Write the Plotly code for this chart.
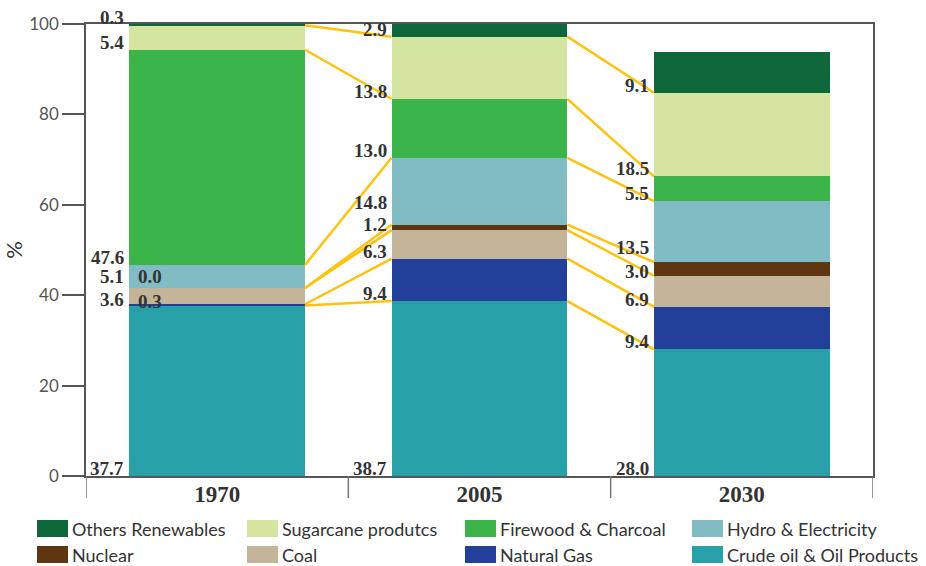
import plotly.graph_objects as go

# Energy mix shares (%) by year, stacked bottom to top
years = ["1970", "2005", "2030"]

crude_oil = [37.7, 38.7, 28.0]
natural_gas = [0.3, 9.4, 9.4]
coal = [3.6, 6.3, 6.9]
nuclear = [0.0, 1.2, 3.0]
hydro = [5.1, 14.8, 13.5]
firewood = [47.6, 13.0, 5.5]
sugarcane = [5.4, 13.8, 18.5]
others_renew = [0.3, 2.9, 9.1]

series_names = [
    "Crude oil & Oil Products", "Natural Gas", "Coal", "Nuclear",
    "Hydro & Electricity", "Firewood & Charcoal", "Sugarcane produtcs",
    "Others Renewables",
]
series_values = [crude_oil, natural_gas, coal, nuclear, hydro,
                 firewood, sugarcane, others_renew]
series_colors = ["#28A0A8", "#22409A", "#C4B49A", "#5E3612",
                 "#81BBC3", "#3BB44A", "#D4E5A0", "#0E673A"]

# geometry of the plot area (pixels)
W, H = 926, 566
L, R, T, B = 86, 53, 24, 90
PW, PH = W - L - R, H - T - B
BAR_W = 0.67
half_bar_px = BAR_W / 2 * PW / len(years)


def px_x(p):
    return (p - L) / PW


def px_y(p):
    return (H - B - p) / PH


fig = go.Figure()
for name, vals, col in zip(series_names, series_values, series_colors):
    fig.add_trace(go.Bar(
        x=years, y=vals, name=name, width=BAR_W,
        marker=dict(color=col, line=dict(width=0)),
        showlegend=False, hoverinfo="x+y+name",
    ))

# cumulative bases of each segment
bases = []
run = [0.0] * len(years)
for vals in series_values:
    bases.append(list(run))
    run = [r + v for r, v in zip(run, vals)]

label_font = dict(family="Liberation Serif", size=19, color="#333333",
                  weight="bold")
annotations = []
# label nudges: (series, year) -> inside the bar / extra vertical shift (px)
inside = {(1, 0), (3, 0)}
lift = {
    (4, 0): 4, (2, 0): -3, (3, 0): 4, (1, 0): -3,
    (4, 1): 15, (3, 1): -2,
    (4, 2): 7, (3, 2): -3,
}
for k, vals in enumerate(series_values):
    for j, v in enumerate(vals):
        is_inside = (k, j) in inside
        annotations.append(dict(
            x=j, y=bases[k][j], xref="x", yref="y",
            text=f"{v:.1f}", showarrow=False, font=label_font,
            borderpad=0,
            xanchor="left" if is_inside else "right", yanchor="bottom",
            xshift=(-half_bar_px + 8) if is_inside else (-half_bar_px - 4),
            yshift=-4 + lift.get((k, j), 0),
        ))

shapes = []
# connectors between segment bases of neighbouring bars
for j in range(len(years) - 1):
    for k in range(1, len(series_values)):
        shapes.append(dict(
            type="line", xref="x", yref="y",
            x0=j + BAR_W / 2, x1=j + 1 - BAR_W / 2,
            y0=bases[k][j], y1=bases[k][j + 1],
            line=dict(color="#FFC20E", width=2.5),
        ))

# category separators below the axis
for b in range(len(years) + 1):
    shapes.append(dict(
        type="line", xref="x", yref="paper",
        x0=b - 0.5, x1=b - 0.5, y0=0, y1=px_y(H - B + 22),
        line=dict(color="#777777", width=1.5),
    ))

# legend (top of stack first), four columns in two rows
legend_cols = [37, 247, 465, 692]
legend_rows = [520, 546]
for i, k in enumerate(range(len(series_names) - 1, -1, -1)):
    cx = legend_cols[i % 4]
    ry = legend_rows[i // 4]
    shapes.append(dict(
        type="rect", xref="paper", yref="paper",
        x0=px_x(cx), x1=px_x(cx + 31), y0=px_y(ry), y1=px_y(ry + 17),
        fillcolor=series_colors[k], line=dict(width=0),
    ))
    annotations.append(dict(
        x=px_x(cx + 33), y=px_y(ry + 9), xref="paper", yref="paper",
        text=series_names[k], showarrow=False, xanchor="left",
        yanchor="middle",
        font=dict(family="Lato", size=18, color="#333333"),
    ))

fig.update_layout(
    width=W, height=H,
    margin=dict(l=L, r=R, t=T, b=B),
    barmode="stack",
    paper_bgcolor="white", plot_bgcolor="white",
    annotations=annotations, shapes=shapes,
    xaxis=dict(
        type="category", range=[-0.5, 2.5], showgrid=False,
        showline=True, linecolor="#555555", linewidth=1.5, mirror=True,
        ticks="", automargin=False,
        tickfont=dict(family="Liberation Serif", size=23,
                      color="#333333", weight="bold"),
        ticklabelstandoff=-3,
    ),
    yaxis=dict(
        range=[0, 100], tickvals=[0, 20, 40, 60, 80, 100],
        showgrid=False, zeroline=False, automargin=False,
        showline=True, linecolor="#555555", linewidth=1.5, mirror=True,
        ticks="outside", ticklen=22, tickwidth=1.5, tickcolor="#555555",
        tickfont=dict(family="Lato", size=17, color="#555555"),
        title=dict(text="%", font=dict(family="Lato", size=22,
                                        color="#333333"), standoff=8),
    ),
)

fig.write_html("out.html")
